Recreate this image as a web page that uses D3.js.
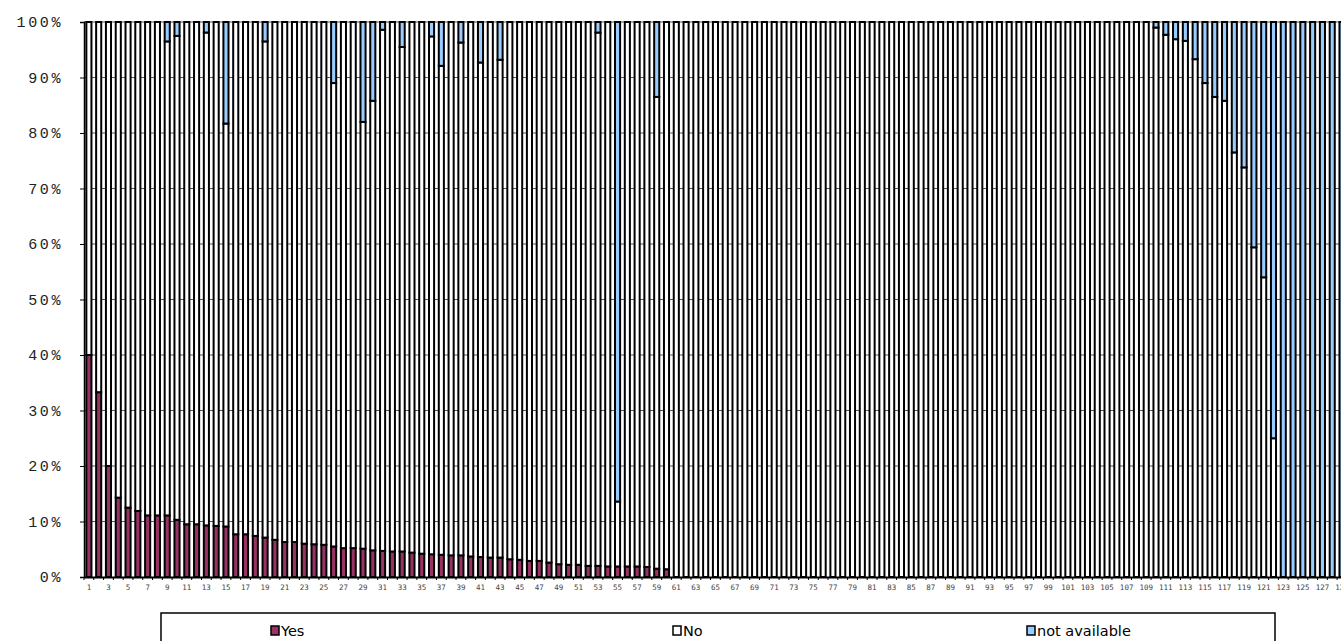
<!DOCTYPE html>
<html>
<head>
<meta charset="utf-8">
<script src="https://cdn.jsdelivr.net/npm/d3@7"></script>
<style>
  html, body { margin: 0; padding: 0; background: #fff; overflow: hidden; }
  svg { display: block; }
</style>
</head>
<body>
<svg id="chart" width="1341" height="641"></svg>
<script>
// ---- data ----
const categories = d3.range(1, 130).map(String);

const yesValues = [
  40.0, 33.3, 20.0, 14.3, 12.5, 11.9, 11.1, 11.1, 11.1, 10.3,
  9.5, 9.5, 9.3, 9.2, 9.1, 7.7, 7.7, 7.4, 7.1, 6.7,
  6.3, 6.3, 6.0, 5.9, 5.8, 5.5, 5.2, 5.2, 5.1, 4.8,
  4.7, 4.6, 4.6, 4.4, 4.2, 4.1, 4.0, 3.9, 3.9, 3.7,
  3.6, 3.5, 3.5, 3.2, 3.1, 2.9, 2.9, 2.6, 2.3, 2.2,
  2.2, 2.0, 2.0, 1.9, 1.9, 1.9, 1.9, 1.8, 1.5, 1.4,
  0, 0, 0, 0, 0, 0, 0, 0, 0, 0,
  0, 0, 0, 0, 0, 0, 0, 0, 0, 0,
  0, 0, 0, 0, 0, 0, 0, 0, 0, 0,
  0, 0, 0, 0, 0, 0, 0, 0, 0, 0,
  0, 0, 0, 0, 0, 0, 0, 0, 0, 0,
  0, 0, 0, 0, 0, 0, 0, 0, 0, 0,
  0, 0, 0, 0, 0, 0, 0, 0, 0
];

const naValues = [
  0, 0, 0, 0, 0, 0, 0, 0, 3.5, 2.5,
  0, 0, 1.9, 0, 18.3, 0, 0, 0, 3.5, 0,
  0, 0, 0, 0, 0, 11.0, 0, 0, 18.0, 14.2,
  1.4, 0, 4.5, 0, 0, 2.6, 7.9, 0, 3.7, 0,
  7.3, 0, 6.8, 0, 0, 0, 0, 0, 0, 0,
  0, 0, 1.9, 0, 86.4, 0, 0, 0, 13.5, 0,
  0, 0, 0, 0, 0, 0, 0, 0, 0, 0,
  0, 0, 0, 0, 0, 0, 0, 0, 0, 0,
  0, 0, 0, 0, 0, 0, 0, 0, 0, 0,
  0, 0, 0, 0, 0, 0, 0, 0, 0, 0,
  0, 0, 0, 0, 0, 0, 0, 0, 0, 1.0,
  2.3, 3.1, 3.4, 6.7, 11.0, 13.5, 14.2, 23.5, 26.2, 40.6,
  46.0, 75.0, 100, 100, 100, 100, 100, 100, 100
];

const noValues = categories.map((c, i) => Math.max(0, 100 - yesValues[i] - naValues[i]));

const seriesNames = ["Yes", "No", "not available"];
const seriesColors = ["#993366", "#ffffff", "#99ccff"];
const yTicks = d3.range(0, 101, 10);

// ---- layout ----
const svg = d3.select("#chart");
const plotLeft = 84, plotTop = 22, plotBottom = 577;
const catStep = 9.79;
const plotRight = plotLeft + catStep * categories.length;

const x = d3.scaleBand().domain(categories).range([plotLeft, plotRight]).paddingInner(0.48).paddingOuter(0.24);
const y = d3.scaleLinear().domain([0, 100]).range([plotBottom, plotTop]);

const table = categories.map((c, i) => ({cat: c, "Yes": yesValues[i], "No": noValues[i], "not available": naValues[i]}));
const stack = d3.stack().keys(seriesNames)(table);

// gridlines
svg.append("g")
  .selectAll("line")
  .data(yTicks.filter(t => t > 0))
  .join("line")
  .attr("x1", plotLeft).attr("x2", 1341)
  .attr("y1", d => y(d)).attr("y2", d => y(d))
  .attr("stroke", "#555").attr("stroke-width", 1);

// bars
const color = d3.scaleOrdinal().domain(seriesNames).range(seriesColors);
svg.append("g")
  .selectAll("g")
  .data(stack)
  .join("g")
  .attr("fill", d => color(d.key))
  .selectAll("rect")
  .data(d => d.filter(p => p[1] - p[0] > 0))
  .join("rect")
  .attr("x", d => x(d.data.cat))
  .attr("width", x.bandwidth())
  .attr("y", d => y(d[1]))
  .attr("height", d => y(d[0]) - y(d[1]))
  .attr("stroke", "#000")
  .attr("stroke-width", 2);

// y axis
const yAxis = svg.append("g")
  .attr("transform", `translate(${plotLeft},0)`)
  .call(d3.axisLeft(y).tickValues(yTicks).tickFormat(d => d + "%").tickSize(4).tickPadding(17));
yAxis.select(".domain").attr("stroke", "#000").attr("stroke-width", 1.5);
yAxis.selectAll(".tick line").attr("stroke", "#000");
yAxis.selectAll("text")
  .attr("font-family", "'Liberation Mono', 'DejaVu Sans Mono', monospace")
  .attr("font-size", 15)
  .attr("letter-spacing", 2.6)
  .attr("fill", "#222");

// x axis
const xAxis = svg.append("g")
  .attr("transform", `translate(0,${plotBottom})`)
  .call(d3.axisBottom(x)
    .tickValues(categories.filter((c, i) => i % 2 === 0))
    .tickSize(0).tickPadding(8));
xAxis.select(".domain").attr("stroke", "#000").attr("stroke-width", 2);
xAxis.selectAll("text")
  .attr("font-family", "'DejaVu Sans Mono', monospace")
  .attr("font-size", 7.5)
  .attr("fill", "#444");

// category boundary ticks
svg.append("g")
  .selectAll("line")
  .data(categories)
  .join("line")
  .attr("x1", d => x(d) - x.step() * x.paddingInner() / 2)
  .attr("x2", d => x(d) - x.step() * x.paddingInner() / 2)
  .attr("y1", plotBottom).attr("y2", plotBottom + 3)
  .attr("stroke", "#000").attr("stroke-width", 1);

// legend
const legend = svg.append("g");
legend.append("rect")
  .attr("x", 161).attr("y", 613).attr("width", 1114).attr("height", 40)
  .attr("fill", "#fff").attr("stroke", "#000").attr("stroke-width", 1.5);
const legendX = [271, 673, 1027];
const items = legend.selectAll("g.item")
  .data(seriesNames)
  .join("g")
  .attr("class", "item")
  .attr("transform", (d, i) => `translate(${legendX[i]},0)`);
items.append("rect")
  .attr("x", 0).attr("y", 626).attr("width", 8).attr("height", 9)
  .attr("fill", d => color(d)).attr("stroke", "#000").attr("stroke-width", 1.5);
items.append("text")
  .attr("x", 10).attr("y", 636)
  .attr("font-family", "'DejaVu Sans', Verdana, sans-serif")
  .attr("font-size", 14.5)
  .attr("fill", "#000")
  .text(d => d);
</script>
</body>
</html>
